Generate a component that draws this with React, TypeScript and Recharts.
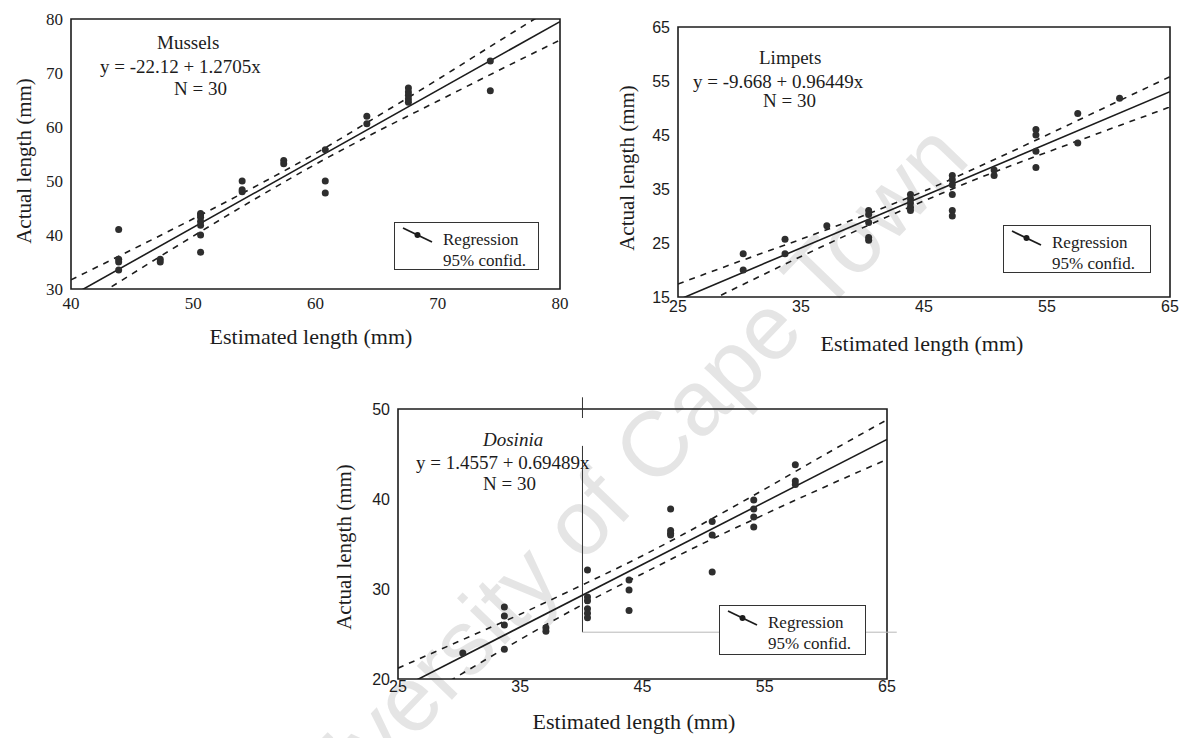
import React from 'react'
import { ComposedChart, Scatter, Line, XAxis, YAxis, ReferenceArea, ReferenceLine } from 'recharts'

// Mussels
const musselEst = [43.9, 43.9, 43.9, 43.9, 47.3, 47.3, 50.6, 50.6, 50.6, 50.6, 50.6, 50.6, 50.6, 54.0, 54.0, 54.0, 57.4, 57.4, 60.8, 60.8, 60.8, 64.2, 64.2, 67.6, 67.6, 67.6, 67.6, 67.6, 74.3, 74.3]
const musselAct = [41.0, 35.5, 35.0, 33.5, 35.5, 35.0, 44.0, 43.7, 43.3, 42.5, 41.8, 40.0, 36.8, 50.0, 48.4, 48.0, 53.8, 53.2, 55.8, 50.0, 47.8, 62.0, 60.6, 67.2, 66.5, 65.9, 65.2, 64.6, 72.2, 66.7]
const musselGrid = [40, 45, 50, 55, 60, 65, 70, 75, 80]
const musselUpper = [31.7, 37.3, 43.0, 48.9, 55.1, 61.9, 68.8, 75.9, 82.9]
const musselLower = [25.7, 32.8, 39.8, 46.6, 53.1, 59.1, 64.8, 70.5, 76.1]
const musselFitX = [40, 80]
const musselFitY = [28.7, 79.52]
const musselXTicks = [40, 50, 60, 70, 80]
const musselYTicks = [30, 40, 50, 60, 70, 80]

// Limpets
const limpetEst = [30.3, 30.3, 33.7, 33.7, 37.1, 40.5, 40.5, 40.5, 40.5, 40.5, 43.9, 43.9, 43.9, 43.9, 43.9, 47.3, 47.3, 47.3, 47.3, 47.3, 47.3, 50.7, 50.7, 54.1, 54.1, 54.1, 54.1, 57.5, 57.5, 60.9]
const limpetAct = [23.0, 20.0, 25.7, 23.0, 28.2, 31.0, 30.3, 28.8, 26.0, 25.5, 34.0, 33.2, 32.4, 31.6, 31.0, 37.5, 36.7, 35.8, 34.0, 31.0, 30.0, 38.5, 37.5, 46.0, 45.0, 42.0, 39.0, 49.0, 43.5, 51.8]
const limpetGrid = [25, 30, 35, 40, 45, 50, 55, 60, 65]
const limpetUpper = [17.4, 21.6, 25.7, 30.0, 34.6, 39.7, 45.0, 50.4, 55.8]
const limpetLower = [11.4, 17.0, 22.5, 27.8, 32.8, 37.5, 41.8, 46.0, 50.2]
const limpetFitX = [25, 65]
const limpetFitY = [14.44, 53.02]
const limpetXTicks = [25, 35, 45, 55, 65]
const limpetYTicks = [15, 25, 35, 45, 55, 65]

// Dosinia
const dosiniaEst = [30.3, 33.7, 33.7, 33.7, 33.7, 37.1, 37.1, 40.5, 40.5, 40.5, 40.5, 40.5, 40.5, 43.9, 43.9, 43.9, 47.3, 47.3, 47.3, 47.3, 50.7, 50.7, 50.7, 54.1, 54.1, 54.1, 54.1, 57.5, 57.5, 57.5]
const dosiniaAct = [22.9, 28.0, 27.0, 26.0, 23.3, 25.7, 25.3, 32.1, 29.1, 28.7, 27.8, 27.3, 26.8, 31.0, 29.9, 27.6, 38.9, 36.5, 36.2, 36.0, 37.5, 36.0, 31.9, 39.9, 38.9, 38.0, 36.9, 43.8, 42.0, 41.6]
const dosiniaGrid = [25, 30, 35, 40, 45, 50, 55, 60, 65]
const dosiniaUpper = [21.2, 24.2, 27.2, 30.4, 33.7, 37.3, 41.1, 45.0, 48.8]
const dosiniaLower = [16.4, 20.4, 24.4, 28.2, 31.7, 35.1, 38.3, 41.4, 44.4]
const dosiniaFitX = [25, 65]
const dosiniaFitY = [18.83, 46.62]
const dosiniaXTicks = [25, 35, 45, 55, 65]
const dosiniaYTicks = [20, 30, 40, 50]

// stray scan lines on the Dosinia panel (data units)
const scanLines = [
  [[40.09, 51.3], [40.09, 49.0]],
  [[40.09, 45.9], [40.09, 25.2]],
  [[40.09, 25.2], [65.8, 25.2]],
]

const SERIF = '"Liberation Serif", "Times New Roman", serif'
const SANS = '"Liberation Sans", Arial, sans-serif'
const INK = '#1c1c1c'

const zip = (xs: number[], ys: number[]) => xs.map((x, i) => ({ x, y: ys[i] }))

const Dot = (p: any) => <circle cx={p.cx} cy={p.cy} r={3.5} fill="#2e2e2e" />

interface PanelProps {
  est: number[]
  act: number[]
  grid: number[]
  upper: number[]
  lower: number[]
  fitX: number[]
  fitY: number[]
  xTicks: number[]
  yTicks: number[]
  tickFont: string
  tickSize: number
  width: number
  height: number
  margin: { top: number; right: number; bottom: number; left: number }
  xTickGap: number
  scan?: number[][][]
}

function Panel(p: PanelProps) {
  const xDom: [number, number] = [p.xTicks[0], p.xTicks[p.xTicks.length - 1]]
  const yDom: [number, number] = [p.yTicks[0], p.yTicks[p.yTicks.length - 1]]
  const tick = { fontFamily: p.tickFont, fontSize: p.tickSize, fill: INK }
  return (
    <ComposedChart width={p.width} height={p.height} margin={p.margin}>
      <XAxis type="number" dataKey="x" domain={xDom} ticks={p.xTicks} allowDataOverflow
        axisLine={false} tickLine={false} tickSize={0} tickMargin={p.xTickGap} height={30} tick={tick} />
      <YAxis type="number" dataKey="y" domain={yDom} ticks={p.yTicks} allowDataOverflow
        axisLine={false} tickLine={false} tickSize={0} tickMargin={8} width={60} tick={tick} />
      <ReferenceArea x1={xDom[0]} x2={xDom[1]} y1={yDom[0]} y2={yDom[1]} fill="none" stroke={INK} strokeWidth={1.6} />
      {p.scan && p.scan.map((s, i) => (
        <ReferenceLine key={i} segment={[{ x: s[0][0], y: s[0][1] }, { x: s[1][0], y: s[1][1] }]}
          ifOverflow="visible" stroke={i === 2 ? '#b8b8b8' : '#333'} strokeWidth={1} />
      ))}
      <Line data={zip(p.grid, p.upper)} dataKey="y" type="monotone" stroke={INK} strokeWidth={1.6}
        strokeDasharray="6 6" dot={false} isAnimationActive={false} />
      <Line data={zip(p.grid, p.lower)} dataKey="y" type="monotone" stroke={INK} strokeWidth={1.6}
        strokeDasharray="6 6" dot={false} isAnimationActive={false} />
      <Line data={zip(p.fitX, p.fitY)} dataKey="y" type="linear" stroke={INK} strokeWidth={1.6}
        dot={false} isAnimationActive={false} />
      <Scatter data={zip(p.est, p.act)} shape={Dot} isAnimationActive={false} />
    </ComposedChart>
  )
}

const abs = (left: number, top: number, extra: React.CSSProperties = {}): React.CSSProperties => ({
  position: 'absolute', left, top, ...extra,
})

function Text({ x, y, size, children, italic, center }: any) {
  return (
    <div style={abs(x, y, {
      fontFamily: SERIF, fontSize: size, color: INK, whiteSpace: 'nowrap', lineHeight: 1,
      fontStyle: italic ? 'italic' : 'normal',
      transform: center ? 'translate(-50%, -50%)' : 'translateY(-50%)',
    })}>{children}</div>
  )
}

function YTitle({ x, y }: { x: number; y: number }) {
  return (
    <div style={abs(x, y, {
      fontFamily: SERIF, fontSize: 21, color: INK, whiteSpace: 'nowrap', lineHeight: 1,
      transform: 'translate(-50%, -50%) rotate(-90deg)',
    })}>Actual length (mm)</div>
  )
}

function LegendBox({ x, y, w, h }: { x: number; y: number; w: number; h: number }) {
  return (
    <div style={abs(x, y, { width: w, height: h, border: '1.5px solid #333', boxSizing: 'border-box', background: '#fff' })}>
      <svg width={36} height={22} style={{ position: 'absolute', left: 6, top: 3 }}>
        <line x1={2} y1={2} x2={31} y2={16} stroke={INK} strokeWidth={1.8} />
        <circle cx={16.5} cy={9} r={3} fill={INK} />
      </svg>
      <div style={{ position: 'absolute', left: 48, top: 6, fontFamily: SERIF, fontSize: 17, lineHeight: '21px', color: INK, whiteSpace: 'nowrap' }}>
        Regression<br />95% confid.
      </div>
    </div>
  )
}

export default function App() {
  return (
    <div style={{ position: 'absolute', left: 0, top: 0, width: 1188, height: 738, background: '#fff', overflow: 'hidden' }}>
      <div style={abs(605, 495, {
        fontFamily: SANS, fontSize: 92, color: '#e5e5e5', whiteSpace: 'nowrap', lineHeight: 1,
        transform: 'translate(-50%, -50%) rotate(-46deg)',
      })}>University of Cape Town</div>

      <div style={abs(0, 0)}>
        <Panel est={musselEst} act={musselAct} grid={musselGrid} upper={musselUpper} lower={musselLower}
          fitX={musselFitX} fitY={musselFitY} xTicks={musselXTicks} yTicks={musselYTicks}
          tickFont={SERIF} tickSize={17} width={580} height={320}
          margin={{ top: 19, right: 20, bottom: 1, left: 11 }} xTickGap={8} />
      </div>
      <div style={abs(590, 0)}>
        <Panel est={limpetEst} act={limpetAct} grid={limpetGrid} upper={limpetUpper} lower={limpetLower}
          fitX={limpetFitX} fitY={limpetFitY} xTicks={limpetXTicks} yTicks={limpetYTicks}
          tickFont={SANS} tickSize={16} width={598} height={330}
          margin={{ top: 27, right: 18, bottom: 3, left: 28 }} xTickGap={4} />
      </div>
      <div style={abs(330, 380)}>
        <Panel est={dosiniaEst} act={dosiniaAct} grid={dosiniaGrid} upper={dosiniaUpper} lower={dosiniaLower}
          fitX={dosiniaFitX} fitY={dosiniaFitY} xTicks={dosiniaXTicks} yTicks={dosiniaYTicks}
          tickFont={SANS} tickSize={16} width={580} height={330}
          margin={{ top: 29, right: 23, bottom: 1, left: 8 }} xTickGap={2} scan={scanLines} />
      </div>

      <Text x={157} y={42} size={19}>Mussels</Text>
      <Text x={100} y={66} size={19}>y = -22.12 + 1.2705x</Text>
      <Text x={174} y={88} size={19}>N = 30</Text>
      <Text x={759} y={57} size={19}>Limpets</Text>
      <Text x={693} y={81} size={19}>y = -9.668 + 0.96449x</Text>
      <Text x={763} y={100} size={19}>N = 30</Text>
      <Text x={483} y={439} size={19} italic>Dosinia</Text>
      <Text x={416} y={462} size={19}>y = 1.4557 + 0.69489x</Text>
      <Text x={483} y={483} size={19}>N = 30</Text>

      <LegendBox x={394} y={222} w={145} h={48} />
      <LegendBox x={1003} y={225} w={148} h={48} />
      <LegendBox x={719} y={605} w={147} h={50} />

      <Text x={311} y={337} size={22} center>Estimated length (mm)</Text>
      <Text x={922} y={344} size={22} center>Estimated length (mm)</Text>
      <Text x={634} y={722} size={22} center>Estimated length (mm)</Text>
      <YTitle x={24} y={161} />
      <YTitle x={627} y={168} />
      <YTitle x={344} y={547} />
    </div>
  )
}
